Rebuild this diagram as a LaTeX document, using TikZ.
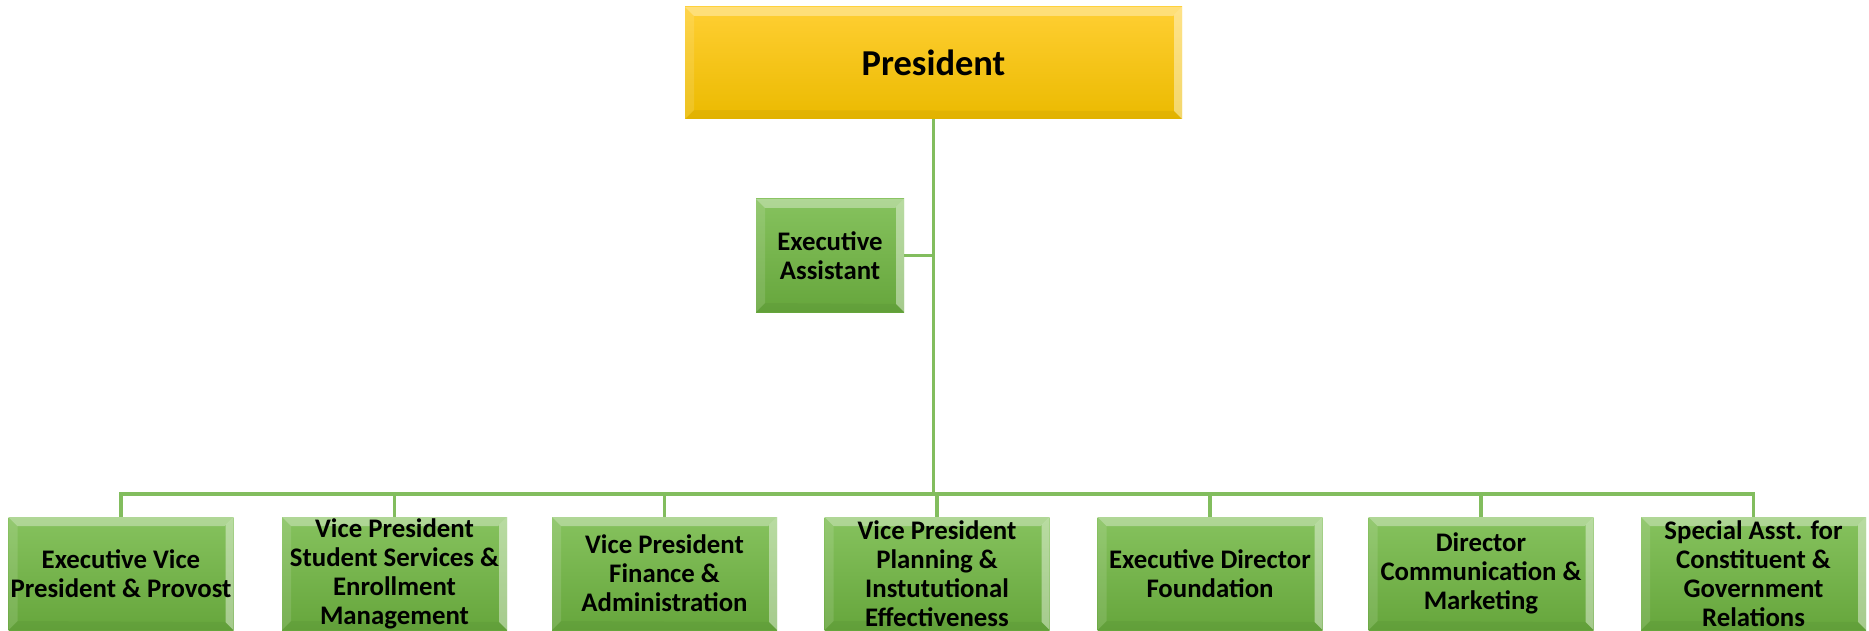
\documentclass[tikz,border=0pt]{standalone}
\usepackage{fontspec}
\setmainfont{Carlito}
\definecolor{grnTop}{HTML}{86C25E}
\definecolor{grnBot}{HTML}{66A63C}
\definecolor{gldTop}{HTML}{FFCF33}
\definecolor{gldMid}{HTML}{FFC307}
\definecolor{gldBot}{HTML}{EBBA00}
\definecolor{lineGrn}{HTML}{82BD5E}
\tikzset{
  bevel/.style={path picture={
    \coordinate (pnw) at (path picture bounding box.north west);
    \coordinate (pne) at (path picture bounding box.north east);
    \coordinate (psw) at (path picture bounding box.south west);
    \coordinate (pse) at (path picture bounding box.south east);
    \fill[white,opacity=0.35] (pnw) -- (pne) -- ([shift={(-9pt,-9pt)}]pne) -- ([shift={(9pt,-9pt)}]pnw) -- cycle;
    \fill[white,opacity=0.12] (pnw) -- ([shift={(9pt,-9pt)}]pnw) -- ([shift={(9pt,9pt)}]psw) -- (psw) -- cycle;
    \fill[white,opacity=0.42] (pne) -- ([shift={(-8pt,-8pt)}]pne) -- ([shift={(-8pt,8pt)}]pse) -- (pse) -- cycle;
    \fill[black,opacity=0.04] (psw) -- ([shift={(9pt,9pt)}]psw) -- ([shift={(-8pt,8pt)}]pse) -- (pse) -- cycle;
  }},
  greenbox/.style={rectangle, inner sep=0pt, minimum width=225pt, minimum height=113pt,
    top color=grnTop, bottom color=grnBot, bevel, align=center,
    font=\fontsize{26.8}{29}\selectfont\bfseries},
  eabox/.style={greenbox, minimum width=148pt},
  goldbox/.style={rectangle, inner sep=0pt, minimum width=497pt, minimum height=112pt,
    top color=gldTop, middle color=gldMid, bottom color=gldBot, bevel, align=center,
    font=\fontsize{36.5}{40}\selectfont\bfseries},
  conn/.style={draw=lineGrn, line width=3.5pt}
}
\begin{document}
\begin{tikzpicture}[x=1pt,y=-1pt]
\useasboundingbox (0,0) rectangle (1869,631);
\coordinate (bus) at (0,494);
\node[goldbox] (pres) at (933.5,63) {President};
\node[eabox] (ea) at (830,255.5) {Executive\\Assistant};
\node[greenbox] (b1) at (121,573.5) {Executive Vice\\President \& Provost};
\node[greenbox] (b2) at (394.5,573.5) {Vice President\\Student Services \&\\Enrollment\\Management};
\node[greenbox] (b3) at (664.5,573.5) {Vice President\\Finance \&\\Administration};
\node[greenbox] (b4) at (937,573.5) {Vice President\\Planning \&\\Instututional\\Effectiveness};
\node[greenbox] (b5) at (1210,573.5) {Executive Director\\Foundation};
\node[greenbox] (b6) at (1481,573.5) {Director\\Communication \&\\Marketing};
\node[greenbox] (b7) at (1753.5,573.5) {Special Asst. for\\Constituent \&\\Government\\Relations};
\draw[conn] (pres.south) -- (pres.south |- bus);
\draw[conn] (ea.east) -- (ea.east -| pres.south);
\draw[conn] (b1.north) -- (b1.north |- bus) -- (b7.north |- bus) -- (b7.north);
\foreach \b in {b2,b3,b4,b5,b6} {\draw[conn] (\b.north) -- (\b.north |- bus);}
\end{tikzpicture}
\end{document}
